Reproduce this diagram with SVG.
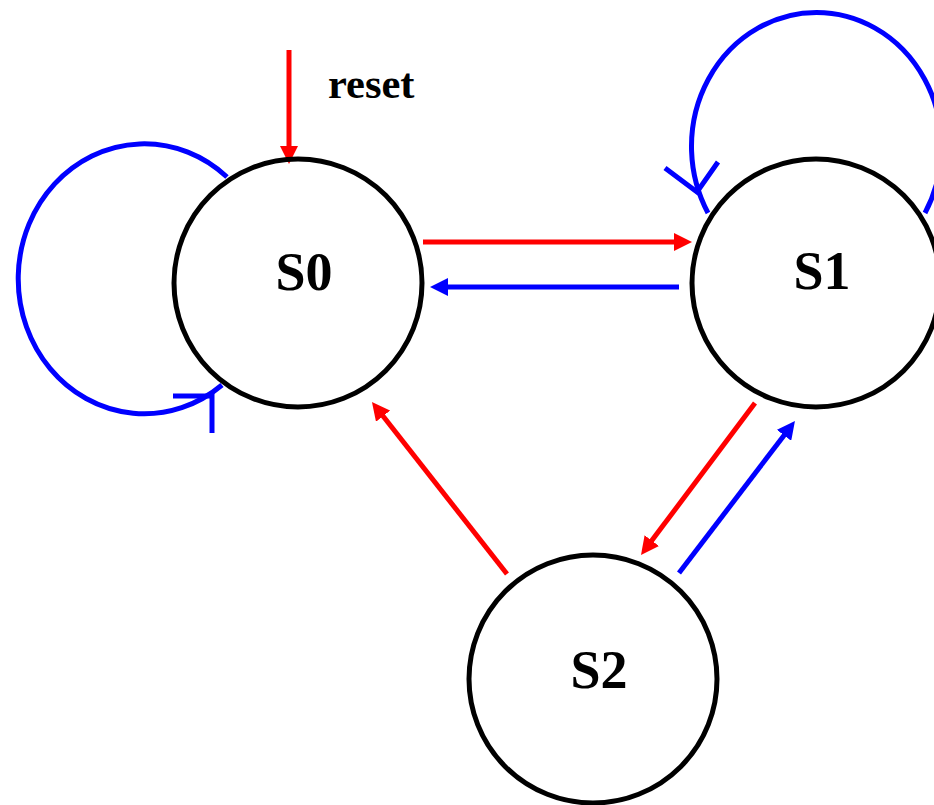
<svg xmlns="http://www.w3.org/2000/svg" width="934" height="805" viewBox="0 0 934 805">
<style>
.state{fill:none;stroke:#000;stroke-width:5}
.lbl{font-family:"Liberation Serif","Times New Roman",serif;font-weight:bold;font-size:54px;text-anchor:middle;fill:#000}
.red{stroke:#ff0000;stroke-width:5;fill:none}
.blue{stroke:#0000ff;stroke-width:5;fill:none}
</style>
<defs>
<marker id="ar" markerUnits="userSpaceOnUse" markerWidth="18" markerHeight="18" refX="10" refY="9" orient="auto"><path d="M0,0 L18,9 L0,18 z" fill="#ff0000"/></marker>
<marker id="ab" markerUnits="userSpaceOnUse" markerWidth="18" markerHeight="18" refX="10" refY="9" orient="auto"><path d="M0,0 L18,9 L0,18 z" fill="#0000ff"/></marker>
</defs>
<rect width="934" height="805" fill="#fff"/>
<g id="connectors">
<line class="red" x1="289" y1="50" x2="289" y2="156" marker-end="url(#ar)"/>
<line class="red" x1="423" y1="242" x2="684" y2="242" marker-end="url(#ar)"/>
<line class="blue" x1="679" y1="287" x2="438" y2="287" marker-end="url(#ab)"/>
<line class="red" x1="755" y1="403" x2="645.8" y2="548.6" marker-end="url(#ar)"/>
<line class="blue" x1="679" y1="573" x2="790.1" y2="427.4" marker-end="url(#ab)"/>
<line class="red" x1="507" y1="574" x2="376.9" y2="408.3" marker-end="url(#ar)"/>
<path class="blue" d="M227,177 A126,135 0 1 0 222,385"/>
<path class="blue" d="M173,396 L212,396 L212,433"/>
<path class="blue" d="M925,213 A125,134 0 1 0 708,213"/>
<path class="blue" d="M665,168 L697,192 L718,162"/>
</g>
<g id="S0"><circle class="state" cx="298" cy="283" r="124"/><text class="lbl" x="304" y="290">S0</text></g>
<g id="S1"><circle class="state" cx="816" cy="283" r="124"/><text class="lbl" x="822" y="289">S1</text></g>
<g id="S2"><circle class="state" cx="593" cy="679" r="124"/><text class="lbl" x="599" y="688">S2</text></g>
<g id="reset"><text x="328" y="98" font-family="Liberation Serif,'Times New Roman',serif" font-weight="bold" font-size="42.5" fill="#000">reset</text></g>
</svg>
